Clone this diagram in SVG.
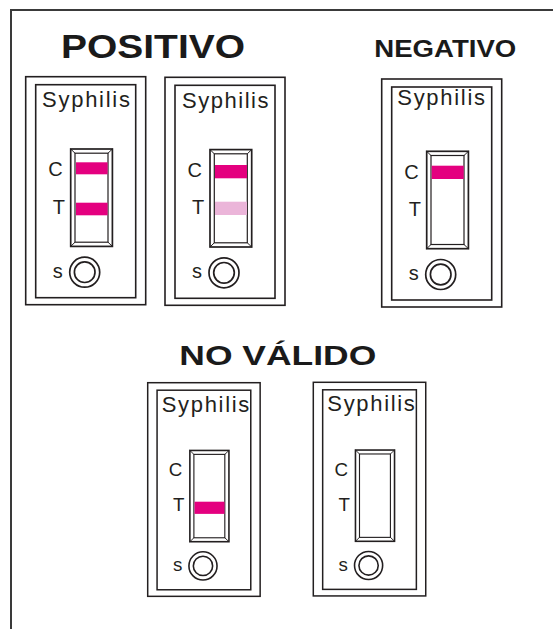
<svg xmlns="http://www.w3.org/2000/svg" width="553" height="629" viewBox="0 0 553 629">
<style>
.frame{fill:none;stroke:#3a3a3a;stroke-width:2}
.box{fill:#fff;stroke:#231f20;stroke-width:1.6}
.win{fill:#fff;stroke:#231f20;stroke-width:1.7}
.wini{fill:none;stroke:#231f20;stroke-width:1.2}
.bev{stroke:#231f20;stroke-width:1}
.ring{fill:none;stroke:#231f20;stroke-width:1.7}
.lbl{font-family:"Liberation Sans",Arial,sans-serif;fill:#231f20}
.title{font-family:"Liberation Sans",Arial,sans-serif;font-weight:bold;fill:#1a1a1a}
.band{fill:#e4007f}
.faint{fill:#ebb5d9}
</style>
<defs>
<g id="card">
<rect class="box" x="0" y="0" width="120" height="228"/>
<rect class="box" x="10" y="8" width="100" height="213"/>
<rect class="win" x="45" y="72.3" width="41.7" height="97.4"/>
<rect class="wini" x="49.3" y="76.5" width="33" height="89"/>
<line class="bev" x1="45" y1="72.3" x2="49.3" y2="76.5"/>
<line class="bev" x1="86.7" y1="72.3" x2="82.3" y2="76.5"/>
<line class="bev" x1="45" y1="169.7" x2="49.3" y2="165.5"/>
<line class="bev" x1="86.7" y1="169.7" x2="82.3" y2="165.5"/>
<text class="lbl" x="22.5" y="99.5" font-size="20">C</text>
<text class="lbl" x="27" y="137" font-size="20">T</text>
<text class="lbl" x="27" y="201" font-size="20">s</text>
<circle class="ring" cx="59" cy="195.5" r="15"/>
<circle class="ring" cx="59" cy="195.5" r="10.3"/>
</g>
</defs>
<path class="frame" d="M11,629 V10 H553"/>
<text class="title" x="61" y="57.7" font-size="34" textLength="184" lengthAdjust="spacingAndGlyphs">POSITIVO</text>
<text class="title" x="374.3" y="57.3" font-size="23" textLength="142" lengthAdjust="spacingAndGlyphs">NEGATIVO</text>
<text class="title" x="179.3" y="365" font-size="28" textLength="197" lengthAdjust="spacingAndGlyphs">NO VÁLIDO</text>
<g id="card-pos1" transform="translate(25.7,76.7)">
<use href="#card"/>
<text class="lbl" x="16.3" y="30.5" font-size="22" textLength="88" lengthAdjust="spacing">Syphilis</text>
<rect class="band" x="50.3" y="85.6" width="31.6" height="12"/>
<rect class="band" x="50.3" y="126" width="31.6" height="12.6"/>
</g>
<g id="card-pos2" transform="translate(165,77.3)">
<use href="#card"/>
<text class="lbl" x="17" y="31" font-size="22" textLength="86.5" lengthAdjust="spacing">Syphilis</text>
<rect class="band" x="50" y="87.7" width="32" height="13.3"/>
<rect class="faint" x="50" y="124.4" width="32" height="13.3"/>
</g>
<g id="card-neg" transform="translate(381.7,79)">
<use href="#card"/>
<text class="lbl" x="15.6" y="25.5" font-size="22" textLength="87.7" lengthAdjust="spacing">Syphilis</text>
<rect class="band" x="50" y="86.7" width="32" height="13.3"/>
</g>
<g id="card-inv1" transform="translate(147.7,382.7) scale(0.937)">
<use href="#card"/>
<text class="lbl" x="15" y="31" font-size="23.5" textLength="93.4" lengthAdjust="spacing">Syphilis</text>
<rect class="band" x="50" y="127" width="32" height="13"/>
</g>
<g id="card-inv2" transform="translate(313.3,382.3) scale(0.937)">
<use href="#card"/>
<text class="lbl" x="15" y="31" font-size="23.5" textLength="93.4" lengthAdjust="spacing">Syphilis</text>
</g>
</svg>
